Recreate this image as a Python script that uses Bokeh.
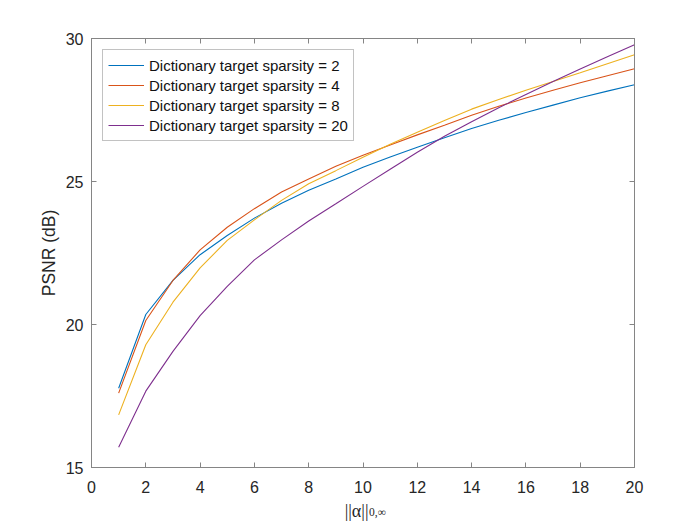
from bokeh.plotting import figure
from bokeh.models import LinearAxis, Legend, LegendItem, Range1d, FixedTicker
from bokeh.layouts import column
from bokeh.core.properties import value
from bokeh.embed import file_html
from bokeh.resources import INLINE

# ---- data ----
sparsity_x = list(range(1, 21))
psnr_s2 = [17.77, 20.35, 21.54, 22.44, 23.11, 23.72, 24.24, 24.69, 25.09, 25.50,
           25.86, 26.20, 26.53, 26.85, 27.14, 27.41, 27.67, 27.93, 28.16, 28.38]
psnr_s4 = [17.60, 20.14, 21.54, 22.61, 23.40, 24.05, 24.63, 25.09, 25.53, 25.92,
           26.28, 26.63, 26.97, 27.32, 27.63, 27.92, 28.19, 28.45, 28.70, 28.94]
psnr_s8 = [16.84, 19.29, 20.78, 21.98, 22.94, 23.66, 24.34, 24.92, 25.38, 25.85,
           26.30, 26.72, 27.13, 27.53, 27.87, 28.19, 28.50, 28.80, 29.12, 29.43]
psnr_s20 = [15.71, 17.67, 19.06, 20.31, 21.33, 22.26, 22.96, 23.62, 24.22, 24.83,
            25.43, 26.02, 26.58, 27.09, 27.58, 28.04, 28.50, 28.93, 29.36, 29.78]
series_labels = ["Dictionary target sparsity = 2", "Dictionary target sparsity = 4",
                 "Dictionary target sparsity = 8", "Dictionary target sparsity = 20"]
series_colors = ["#0072BD", "#D95319", "#EDB120", "#7E2F8E"]
x_ticks = list(range(0, 21, 2))
y_ticks = [15, 20, 25, 30]
y_label = "PSNR (dB)"
x_label_main = "||α||"
x_label_sub = "0,∞"

AX = "#858585"
TXT = "#262626"
FONT = "Liberation Sans"
W = 700
H_MAIN = 502
H_LABEL = 23

p = figure(width=W, height=H_MAIN, output_backend="svg", toolbar_location=None,
           x_range=Range1d(0, 20), y_range=Range1d(15, 30),
           min_border_left=91, min_border_right=66, min_border_top=38,
           min_border_bottom=35)
p.background_fill_color = "white"
p.border_fill_color = "white"
p.outline_line_color = AX
p.outline_line_width = 1
p.xgrid.visible = False
p.ygrid.visible = False

def style_axis(ax, ticks, show_labels=True):
    ax.ticker = FixedTicker(ticks=ticks)
    ax.axis_line_color = AX
    ax.axis_line_width = 1
    ax.major_tick_line_color = AX
    ax.major_tick_in = 5
    ax.major_tick_out = 0
    ax.minor_tick_line_color = None
    ax.major_label_text_font = FONT
    ax.major_label_text_color = TXT
    ax.major_label_text_font_size = "16px"
    if not show_labels:
        ax.major_label_overrides = {t: "" for t in ticks}

style_axis(p.xaxis[0], x_ticks)
p.xaxis[0].major_label_standoff = 13
style_axis(p.yaxis[0], y_ticks)
p.yaxis[0].major_label_standoff = 8
p.yaxis[0].axis_label = y_label
p.yaxis[0].axis_label_text_font = FONT
p.yaxis[0].axis_label_text_font_size = "17.5px"
p.yaxis[0].axis_label_text_font_style = "normal"
p.yaxis[0].axis_label_text_color = TXT
p.yaxis[0].axis_label_standoff = 4

top_ax = LinearAxis()
style_axis(top_ax, x_ticks, show_labels=False)
top_ax.major_label_standoff = 0
p.add_layout(top_ax, "above")
right_ax = LinearAxis()
style_axis(right_ax, y_ticks, show_labels=False)
right_ax.major_label_standoff = 0
p.add_layout(right_ax, "right")

renderers = []
for ys, c in zip([psnr_s2, psnr_s4, psnr_s8, psnr_s20], series_colors):
    r = p.line(sparsity_x, ys, line_color=c, line_width=1.1)
    renderers.append(r)

legend = Legend(items=[LegendItem(label=l, renderers=[r]) for l, r in zip(series_labels, renderers)],
                location="top_left")
legend.margin = 11
legend.padding = 5
legend.spacing = 0
legend.glyph_width = 36
legend.glyph_height = 20
legend.label_height = 20
legend.label_standoff = 5
legend.label_text_font = FONT
legend.label_text_font_size = "15px"
legend.label_text_color = "#111111"
legend.border_line_color = AX
legend.border_line_width = 1
legend.background_fill_color = "white"
legend.background_fill_alpha = 1
p.add_layout(legend)

# strip below the axes carrying the x-axis label (main text + subscript)
q = figure(width=W, height=H_LABEL, output_backend="svg", toolbar_location=None,
           x_range=p.x_range, y_range=Range1d(0, H_LABEL),
           min_border_left=91, min_border_right=66, min_border_top=0, min_border_bottom=0)
q.axis.visible = False
q.grid.visible = False
q.outline_line_color = None
q.background_fill_color = "white"
q.border_fill_color = "white"
q.text(x=[10], y=[15], text=[x_label_main], x_offset=5.5, text_align="right",
       text_baseline="alphabetic", text_font=value("Liberation Serif"),
       text_font_size="18px", text_color=TXT)
q.text(x=[10], y=[14], text=[x_label_sub], x_offset=6, text_align="left",
       text_baseline="alphabetic", text_font=value("Liberation Serif"),
       text_font_size="11.5px", text_color=TXT)

layout = column(p, q, spacing=0)
open("out.html", "w").write(file_html(layout, INLINE))
